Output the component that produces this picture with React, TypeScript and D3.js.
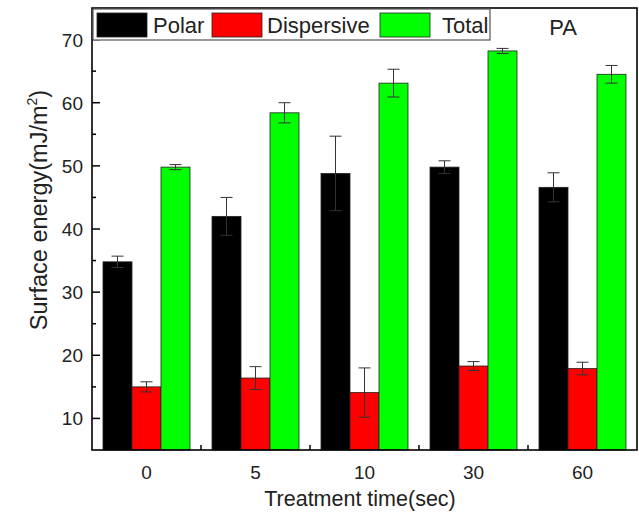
import React, { useEffect, useRef } from 'react'
import * as d3 from 'd3'

const categories = ['0', '5', '10', '30', '60']
const seriesNames = ['Polar', 'Dispersive', 'Total']
const seriesColors = ['#000000', '#ff0000', '#00ff00']
const polar = [34.8, 42.0, 48.8, 49.8, 46.6]
const polarErr = [0.9, 3.0, 5.9, 1.0, 2.3]
const dispersive = [15.0, 16.4, 14.1, 18.3, 17.9]
const dispersiveErr = [0.8, 1.8, 3.9, 0.7, 1.0]
const total = [49.8, 58.4, 63.1, 68.2, 64.5]
const totalErr = [0.4, 1.6, 2.2, 0.4, 1.4]
const yTicks = [10, 20, 30, 40, 50, 60, 70]
const yMinorTicks = [15, 25, 35, 45, 55, 65]

const W = 639
const H = 516
const FONT = '"Liberation Sans", Arial, sans-serif'

export default function App () {
  const ref = useRef<SVGSVGElement>(null)

  useEffect(() => {
    const svg = d3.select(ref.current)
    svg.selectAll('*').remove()

    const left = 92
    const right = 637
    const top = 8
    const bottom = 450

    const x = d3.scaleBand().domain(categories).range([left, right])
    const inner = d3.scaleBand().domain(seriesNames).range([11, 98])
    const y = d3.scaleLinear().domain([5, 75]).range([bottom, top])

    const values = [polar, dispersive, total]
    const errors = [polarErr, dispersiveErr, totalErr]
    const rows = []
    categories.forEach((c, i) => {
      seriesNames.forEach((s, j) => {
        rows.push({ c, s, j, v: values[j][i], e: errors[j][i] })
      })
    })

    // bars
    svg.append('g')
      .selectAll('rect')
      .data(rows)
      .enter()
      .append('rect')
      .attr('x', d => x(d.c) + inner(d.s))
      .attr('y', d => y(d.v))
      .attr('width', inner.bandwidth())
      .attr('height', d => bottom - y(d.v))
      .attr('fill', d => seriesColors[d.j])
      .attr('stroke', '#222')
      .attr('stroke-width', 0.8)

    // error bars
    const eb = svg.append('g')
      .attr('stroke', '#333')
      .attr('stroke-width', 1)
    const cx = d => x(d.c) + inner(d.s) + inner.bandwidth() / 2
    eb.selectAll('.ev').data(rows).enter().append('line')
      .attr('x1', cx).attr('x2', cx)
      .attr('y1', d => y(d.v + d.e)).attr('y2', d => y(d.v - d.e))
    eb.selectAll('.et').data(rows).enter().append('line')
      .attr('x1', d => cx(d) - 6).attr('x2', d => cx(d) + 6)
      .attr('y1', d => y(d.v + d.e)).attr('y2', d => y(d.v + d.e))
    eb.selectAll('.eb').data(rows).enter().append('line')
      .attr('x1', d => cx(d) - 6).attr('x2', d => cx(d) + 6)
      .attr('y1', d => y(d.v - d.e)).attr('y2', d => y(d.v - d.e))

    // frame
    svg.append('rect')
      .attr('x', left).attr('y', top)
      .attr('width', right - left).attr('height', bottom - top)
      .attr('fill', 'none')
      .attr('stroke', '#000')
      .attr('stroke-width', 1.6)

    // y ticks
    const yt = svg.append('g').attr('stroke', '#000').attr('stroke-width', 1.5)
    yt.selectAll('.maj').data(yTicks).enter().append('line')
      .attr('x1', left).attr('x2', left + 8)
      .attr('y1', d => y(d)).attr('y2', d => y(d))
    yt.selectAll('.min').data(yMinorTicks).enter().append('line')
      .attr('x1', left).attr('x2', left + 4)
      .attr('y1', d => y(d)).attr('y2', d => y(d))

    svg.append('g')
      .selectAll('text')
      .data(yTicks)
      .enter()
      .append('text')
      .attr('x', left - 9)
      .attr('y', d => y(d) + 7)
      .attr('text-anchor', 'end')
      .attr('font-family', FONT)
      .attr('font-size', 19)
      .attr('fill', '#222')
      .text(d => d)

    // x ticks between groups
    svg.append('g')
      .selectAll('line')
      .data(categories.slice(1))
      .enter()
      .append('line')
      .attr('x1', d => x(d)).attr('x2', d => x(d))
      .attr('y1', bottom).attr('y2', bottom - 5)
      .attr('stroke', '#000')
      .attr('stroke-width', 1.5)

    svg.append('g')
      .selectAll('text')
      .data(categories)
      .enter()
      .append('text')
      .attr('x', d => x(d) + x.bandwidth() / 2)
      .attr('y', 479)
      .attr('text-anchor', 'middle')
      .attr('font-family', FONT)
      .attr('font-size', 19)
      .attr('fill', '#222')
      .text(d => d)

    // axis titles
    svg.append('text')
      .attr('x', 360)
      .attr('y', 506)
      .attr('text-anchor', 'middle')
      .attr('font-family', FONT)
      .attr('font-size', 21.5)
      .attr('fill', '#222')
      .text('Treatment time(sec)')

    const yTitle = svg.append('text')
      .attr('transform', 'translate(47,210) rotate(-90)')
      .attr('text-anchor', 'middle')
      .attr('font-family', FONT)
      .attr('font-size', 23.5)
      .attr('fill', '#222')
    yTitle.append('tspan').text('Surface energy(mJ/m')
    yTitle.append('tspan').attr('font-size', 14).attr('dy', -10).text('2')
    yTitle.append('tspan').attr('dy', 10).text(')')

    // legend
    const lg = svg.append('g')
    lg.append('rect')
      .attr('x', 93).attr('y', 9)
      .attr('width', 397).attr('height', 31)
      .attr('fill', '#fff')
      .attr('stroke', '#555')
      .attr('stroke-width', 1.2)
    const swatchX = [97, 212, 380]
    const labelX = [153, 267, 442]
    seriesNames.forEach((s, j) => {
      lg.append('rect')
        .attr('x', swatchX[j]).attr('y', 13)
        .attr('width', 50).attr('height', 24)
        .attr('fill', seriesColors[j])
        .attr('stroke', '#222')
        .attr('stroke-width', 0.8)
      lg.append('text')
        .attr('x', labelX[j]).attr('y', 33)
        .attr('font-family', FONT)
        .attr('font-size', 22)
        .attr('fill', '#222')
        .text(s)
    })

    svg.append('text')
      .attr('x', 563).attr('y', 35)
      .attr('text-anchor', 'middle')
      .attr('font-family', FONT)
      .attr('font-size', 22)
      .attr('fill', '#222')
      .text('PA')
  }, [])

  return (
    <svg ref={ref} width={W} height={H}
      style={{ position: 'absolute', left: 0, top: 0, background: '#fff' }} />
  )
}
